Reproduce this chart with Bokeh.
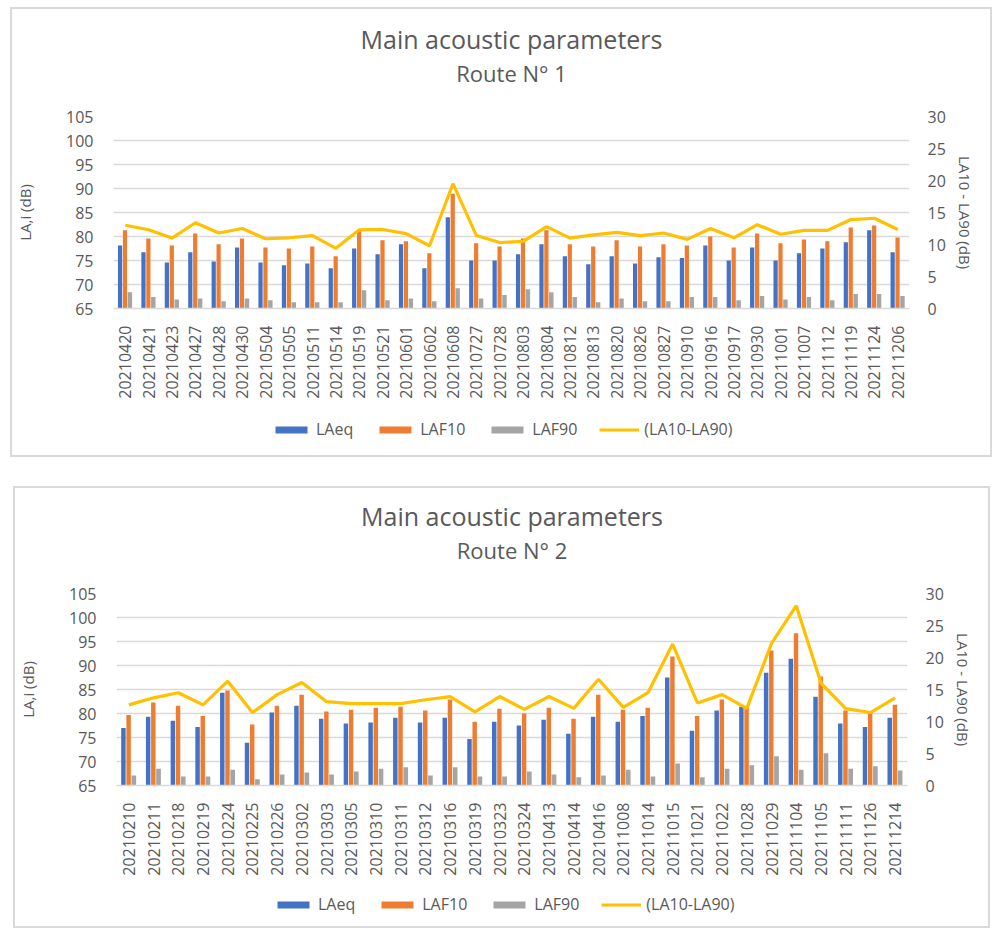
import math
from bokeh.plotting import figure
from bokeh.models import (ColumnDataSource, FactorRange, Range1d, LinearAxis, Legend,
                          LegendItem, Title, SingleIntervalTicker)
from bokeh.transform import dodge
from bokeh.layouts import column
from bokeh.embed import file_html
from bokeh.resources import INLINE

# ---------------- data ----------------
r1_dates = ["20210420", "20210421", "20210423", "20210427", "20210428", "20210430", "20210504",
            "20210505", "20210511", "20210514", "20210519", "20210521", "20210601", "20210602",
            "20210608", "20210727", "20210728", "20210803", "20210804", "20210812", "20210813",
            "20210820", "20210826", "20210827", "20210910", "20210916", "20210917", "20210930",
            "20211001", "20211007", "20211112", "20211119", "20211124", "20211206"]
r1_laeq = [78.1, 76.7, 74.6, 76.7, 74.8, 77.7, 74.6, 74.0, 74.4, 73.4,
           77.5, 76.3, 78.4, 73.4, 84.0, 75.0, 75.0, 76.3, 78.4, 75.9,
           74.2, 75.9, 74.4, 75.7, 75.5, 78.1, 75.0, 77.7, 75.0, 76.5,
           77.5, 78.8, 81.3, 76.7]
r1_laf10 = [81.3, 79.6, 78.1, 80.6, 78.4, 79.6, 77.7, 77.5, 77.9, 75.9,
            81.1, 79.2, 79.0, 76.5, 88.9, 78.6, 77.9, 79.6, 81.3, 78.4,
            77.9, 79.2, 77.9, 78.4, 78.1, 80.0, 77.7, 80.6, 78.6, 79.4,
            79.0, 81.9, 82.3, 79.8]
r1_laf90 = [68.4, 67.4, 66.9, 67.1, 66.5, 67.1, 66.7, 66.3, 66.3, 66.3,
            68.8, 66.7, 67.1, 66.5, 69.2, 67.1, 67.8, 69.0, 68.4, 67.4,
            66.3, 67.1, 66.5, 66.5, 67.4, 67.4, 66.7, 67.6, 66.9, 67.4,
            66.7, 68.0, 68.0, 67.6]
r1_diff = [13.0, 12.3, 11.0, 13.4, 11.8, 12.5, 10.9, 11.05, 11.4, 9.4,
           12.3, 12.35, 11.7, 9.8, 19.5, 11.4, 10.3, 10.5, 12.8, 11.0,
           11.5, 11.9, 11.4, 11.8, 10.8, 12.5, 11.05, 13.1, 11.6, 12.2,
           12.2, 13.9, 14.1, 12.35]

r2_dates = ["20210210", "20210211", "20210218", "20210219", "20210224", "20210225", "20210226",
            "20210302", "20210303", "20210305", "20210310", "20210311", "20210312", "20210316",
            "20210319", "20210323", "20210324", "20210413", "20210414", "20210416", "20211008",
            "20211014", "20211015", "20211021", "20211022", "20211028", "20211029", "20211104",
            "20211105", "20211111", "20211126", "20211214"]
r2_laeq = [77.0, 79.3, 78.5, 77.2, 84.3, 73.9, 80.2, 81.6, 78.9, 77.9,
           78.1, 79.1, 78.1, 79.1, 74.7, 78.3, 77.5, 78.7, 75.8, 79.3,
           78.3, 79.5, 87.5, 76.4, 80.6, 81.4, 88.5, 91.4, 83.5, 77.9,
           77.2, 79.1]
r2_laf10 = [79.7, 82.3, 81.6, 79.5, 84.8, 77.7, 81.6, 83.9, 80.4, 80.8,
            81.2, 81.4, 80.6, 82.9, 78.3, 81.0, 80.0, 81.2, 78.9, 83.9,
            80.8, 81.2, 91.9, 79.5, 82.9, 81.2, 93.1, 96.7, 87.7, 80.6,
            80.2, 81.8]
r2_laf90 = [67.1, 68.5, 66.9, 66.9, 68.3, 66.3, 67.3, 67.7, 67.3, 67.9,
            68.5, 68.8, 67.1, 68.8, 66.9, 66.9, 67.9, 67.3, 66.7, 67.1,
            68.3, 66.9, 69.6, 66.7, 68.5, 69.2, 71.1, 68.3, 71.7, 68.5,
            69.0, 68.1]
r2_diff = [12.6, 13.7, 14.5, 12.6, 16.3, 11.4, 14.2, 16.1, 13.1, 12.8,
           12.8, 12.8, 13.4, 13.9, 11.5, 13.9, 11.9, 13.9, 12.05, 16.6,
           12.2, 14.5, 22.1, 12.9, 14.2, 12.05, 22.2, 28.1, 16.0, 12.0,
           11.4, 13.7]

main_title = "Main acoustic parameters"
left_label = "LA,i (dB)"
right_label = "LA10 - LA90 (dB)"
series_names = ["LAeq", "LAF10", "LAF90", "(LA10-LA90)"]

# ---------------- style ----------------
BLUE, ORANGE, GRAY, YELLOW = "#4472C4", "#ED7D31", "#A5A5A5", "#FFC000"
TXT = "#595959"
GRID = "#d9d9d9"
FONT = "Open Sans"
BORDER = "2px solid #d9d9d9"


def add_bars(p, src):
    r1 = p.vbar(x=dodge("date", -0.22, range=p.x_range), top="laeq", bottom=65, width=0.18,
                source=src, fill_color=BLUE, line_color=None)
    r2 = p.vbar(x=dodge("date", -0.01, range=p.x_range), top="laf10", bottom=65, width=0.18,
                source=src, fill_color=ORANGE, line_color=None)
    r3 = p.vbar(x=dodge("date", 0.2, range=p.x_range), top="laf90", bottom=65, width=0.19,
                source=src, fill_color=GRAY, line_color=None)
    return r1, r2, r3


def make_chart(route, src, dates, width, height, top, frame_h, left, right):
    p = figure(x_range=FactorRange(*dates), y_range=Range1d(65, 105),
               width=width, height=height, output_backend="svg", toolbar_location=None,
               title=main_title)
    p.min_border_left = left
    p.min_border_right = right
    p.min_border_top = top
    p.min_border_bottom = height - top - frame_h
    p.outline_line_color = None
    p.styles = {"border-top": BORDER, "border-left": BORDER, "border-right": BORDER,
                "box-sizing": "border-box"}

    p.title.text_font = FONT
    p.title.text_font_size = "25px"
    p.title.text_font_style = "normal"
    p.title.text_color = TXT
    p.title.align = "center"
    p.title.standoff = 0
    # spacer between the plot frame and the subtitle
    p.add_layout(Title(text=" ", text_font_size="1px", standoff=26), "above")
    p.add_layout(Title(text=f"Route N° {route}", text_font=FONT, text_font_size="22px",
                       text_font_style="normal", text_color=TXT, align="center",
                       standoff=0), "above")

    p.extra_y_ranges = {"diff": Range1d(0, 30)}
    add_bars(p, src)
    p.line(x="date", y="diff", y_range_name="diff", source=src,
           line_color=YELLOW, line_width=3.2)

    ya = p.yaxis[0]
    ya.ticker = SingleIntervalTicker(interval=5)
    ya.axis_label = left_label
    ya.axis_label_standoff = 28
    ya.major_label_standoff = 14
    ra = LinearAxis(y_range_name="diff", ticker=SingleIntervalTicker(interval=5),
                    axis_label=right_label, axis_label_standoff=6, major_label_standoff=12)
    p.add_layout(ra, "right")

    for ax in (ya, ra):
        ax.axis_line_color = None
        ax.major_tick_line_color = None
        ax.minor_tick_line_color = None
        ax.major_label_text_color = TXT
        ax.major_label_text_font = FONT
        ax.major_label_text_font_size = "16px"
        ax.axis_label_text_color = TXT
        ax.axis_label_text_font = FONT
        ax.axis_label_text_font_size = "15px"
        ax.axis_label_text_font_style = "normal"

    xa = p.xaxis[0]
    xa.axis_line_color = GRID
    xa.axis_line_width = 1.5
    xa.major_tick_line_color = None
    xa.minor_tick_line_color = None
    xa.major_label_orientation = math.pi / 2
    xa.major_label_text_color = TXT
    xa.major_label_text_font = FONT
    xa.major_label_text_font_size = "16px"
    xa.major_label_standoff = 11

    p.xgrid.grid_line_color = None
    p.ygrid.grid_line_color = GRID
    p.ygrid.grid_line_width = 1.5
    return p


def make_legend(src, dates, width, height, loc):
    # a strip below the chart that only carries the legend; its renderers are
    # hidden, the legend still draws their swatches
    q = figure(width=width, height=height, output_backend="svg", toolbar_location=None,
               x_range=FactorRange(*dates), y_range=Range1d(65, 105), min_border=0)
    q.axis.visible = False
    q.grid.grid_line_color = None
    q.outline_line_color = None
    q.styles = {"border-bottom": BORDER, "border-left": BORDER, "border-right": BORDER,
                "box-sizing": "border-box"}
    g1, g2, g3 = add_bars(q, src)
    g4 = q.line(x="date", y="diff", source=src, line_color=YELLOW, line_width=3.2)
    for g in (g1, g2, g3, g4):
        g.visible = False
    legend = Legend(items=[LegendItem(label=series_names[0], renderers=[g1]),
                           LegendItem(label=series_names[1], renderers=[g2]),
                           LegendItem(label=series_names[2], renderers=[g3]),
                           LegendItem(label=series_names[3], renderers=[g4])],
                    orientation="horizontal", location=loc,
                    glyph_width=40, glyph_height=9, label_standoff=5, spacing=22,
                    padding=4, label_text_font=FONT, label_text_font_size="16px",
                    label_text_color=TXT, border_line_color=None,
                    background_fill_alpha=0, inactive_fill_alpha=0)
    q.add_layout(legend)
    return q


src1 = ColumnDataSource(dict(date=r1_dates, laeq=r1_laeq, laf10=r1_laf10,
                             laf90=r1_laf90, diff=r1_diff))
src2 = ColumnDataSource(dict(date=r2_dates, laeq=r2_laeq, laf10=r2_laf10,
                             laf90=r2_laf90, diff=r2_diff))

p1 = make_chart(1, src1, r1_dates, width=982, height=400, top=107, frame_h=192,
                left=101, right=85)
l1 = make_legend(src1, r1_dates, 982, 50, (158, 17))
p2 = make_chart(2, src2, r2_dates, width=977, height=398, top=105, frame_h=192,
                left=100, right=84)
l2 = make_legend(src2, r2_dates, 977, 44, (157, 13))

p1.margin = (7, 0, 0, 10)
l1.margin = (0, 0, 0, 10)
p2.margin = (29, 0, 0, 13)
l2.margin = (0, 0, 0, 13)

layout = column(p1, l1, p2, l2, spacing=0)
open("out.html", "w").write(file_html(layout, INLINE))
